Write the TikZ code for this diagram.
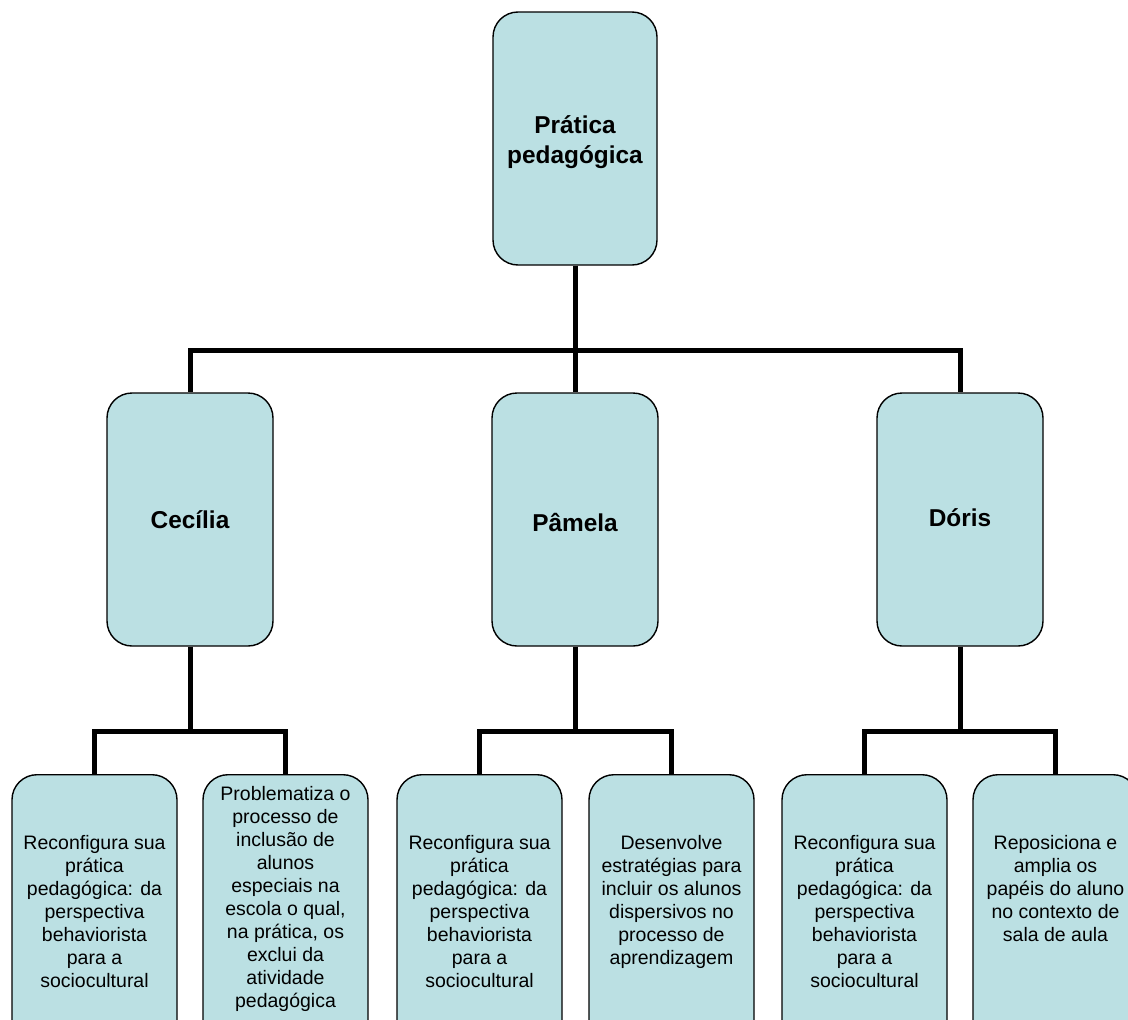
\documentclass[tikz,border=0pt]{standalone}
\usepackage{fontspec}
\setmainfont{Liberation Sans}
\definecolor{boxfill}{RGB}{187,224,227}
\tikzset{
  box/.style={draw=black, line width=1.4pt, fill=boxfill, rounded corners=25pt, inner sep=0pt},
  topbox/.style={box, minimum width=164pt, minimum height=253pt},
  midbox/.style={box, minimum width=166pt, minimum height=253pt},
  leafbox/.style={box, minimum width=165pt, minimum height=275pt},
  title/.style={font=\fontsize{24.4}{30}\selectfont\bfseries, align=center, inner sep=0pt},
  leaftext/.style={font=\fontsize{19.5}{23}\selectfont, align=center, inner sep=0pt, anchor=north},
  conn/.style={line width=5pt, draw=black}
}
\begin{document}
\begin{tikzpicture}[x=1pt,y=-1pt]
\useasboundingbox (0,0) rectangle (1128,1020);
\clip (0,0) rectangle (1128,1020);
% boxes
\node[topbox] (top) at (575,138.5) {};
\node[midbox] (cec) at (190,519.5) {};
\node[midbox] (pam) at (575,519.5) {};
\node[midbox] (dor) at (960,519.5) {};
\node[leafbox, anchor=north] (l1) at (94.5,774) {};
\node[leafbox, anchor=north] (l2) at (285.5,774) {};
\node[leafbox, anchor=north] (l3) at (479.5,774) {};
\node[leafbox, anchor=north] (l4) at (671.5,774) {};
\node[leafbox, anchor=north] (l5) at (864.5,774) {};
\node[leafbox, anchor=north] (l6) at (1055.5,774) {};
% connectors
\draw[conn] (top.south) -- ++(0,85) -| (cec.north);
\draw[conn] (top.south) -- ++(0,85) -| (dor.north);
\draw[conn] (top.south) -- (pam.north);
\draw[conn] (cec.south) -- ++(0,85) -| (l1.north);
\draw[conn] (cec.south) -- ++(0,85) -| (l2.north);
\draw[conn] (pam.south) -- ++(0,85) -| (l3.north);
\draw[conn] (pam.south) -- ++(0,85) -| (l4.north);
\draw[conn] (dor.south) -- ++(0,85) -| (l5.north);
\draw[conn] (dor.south) -- ++(0,85) -| (l6.north);
% titles
\node[title] (ttop) at ([yshift=-3.5pt]top.center) {Prática\\pedagógica};
\node[title] (tcec) at (cec.center) {Cecília};
\node[title] (tpam) at ([yshift=-3pt]pam.center) {Pâmela};
\node[title] (tdor) at ([yshift=2pt]dor.center) {Dóris};
% leaf texts
\node[leaftext] (t1) at ([yshift=-61pt]l1.north) {Reconfigura sua\\prática\\pedagógica: da\\perspectiva\\behaviorista\\para a\\sociocultural};
\node[leaftext] (t2) at ([yshift=-12pt]l2.north) {Problematiza o\\processo de\\inclusão de\\alunos\\especiais na\\escola o qual,\\na prática, os\\exclui da\\atividade\\pedagógica};
\node[leaftext] (t3) at ([yshift=-61pt]l3.north) {Reconfigura sua\\prática\\pedagógica: da\\perspectiva\\behaviorista\\para a\\sociocultural};
\node[leaftext] (t4) at ([yshift=-61pt]l4.north) {Desenvolve\\estratégias para\\incluir os alunos\\dispersivos no\\processo de\\aprendizagem};
\node[leaftext] (t5) at ([yshift=-61pt]l5.north) {Reconfigura sua\\prática\\pedagógica: da\\perspectiva\\behaviorista\\para a\\sociocultural};
\node[leaftext] (t6) at ([yshift=-61pt]l6.north) {Reposiciona e\\amplia os\\papéis do aluno\\no contexto de\\sala de aula};
\end{tikzpicture}
\end{document}
